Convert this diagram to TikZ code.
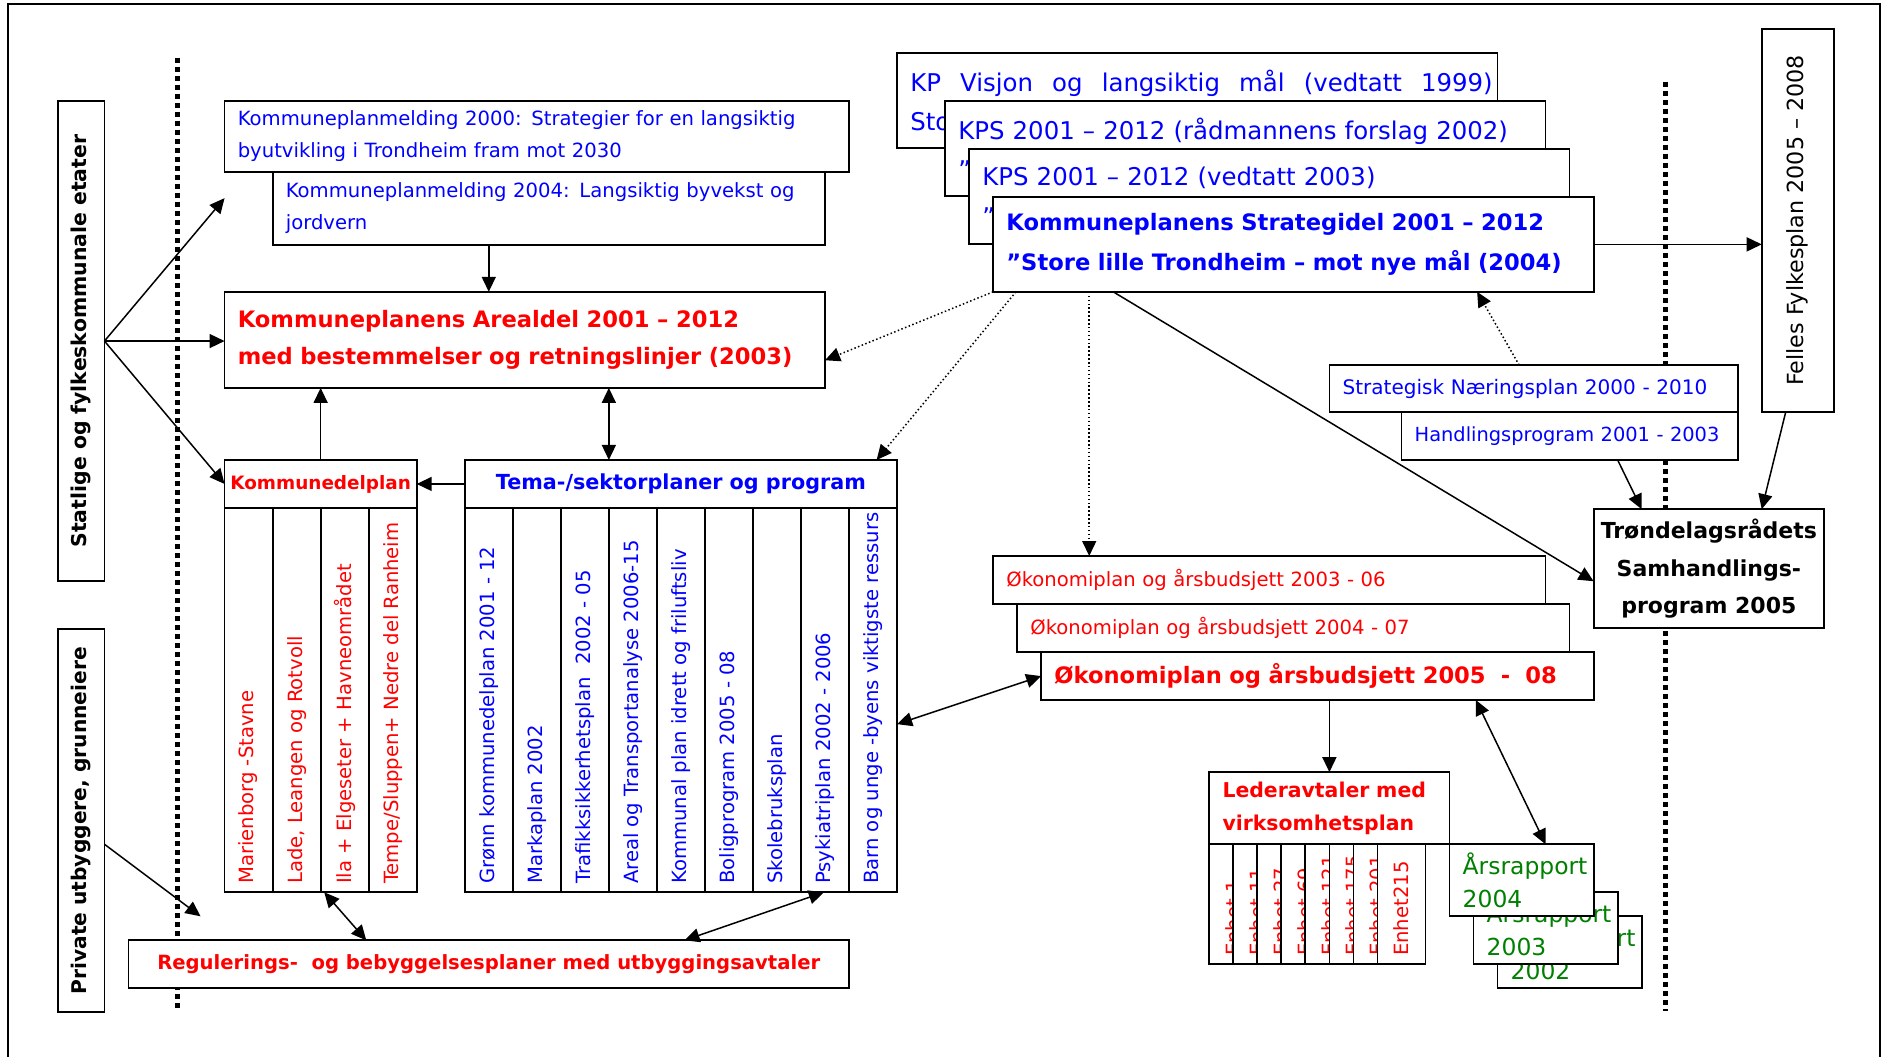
\documentclass[tikz,border=0pt]{standalone}
\usepackage{fontspec}
\usepackage{graphicx}
\setmainfont{DejaVu Sans}
\usetikzlibrary{arrows.meta}
\definecolor{pblue}{RGB}{0,0,255}
\definecolor{pred}{RGB}{255,0,0}
\definecolor{pgreen}{RGB}{0,128,0}
\newcommand\fsz[2]{\fontsize{#1}{#2}\selectfont}
\newcommand\pu{0.6pt}
% rotated labels: column labels start at the bottom of their column
\newcommand\colt[1]{\rotatebox{90}{\makebox[183.6pt][l]{#1}}}
\newcommand\enht[1]{\rotatebox{90}{\makebox[51.6pt][l]{#1}}}
\newcommand\vtxt[1]{\rotatebox{90}{#1}}

\begin{document}
\begin{tikzpicture}[x=0.6pt, y=-0.6pt,
  box/.style={draw, line width=0.9pt, fill=white, inner sep=0pt, outer sep=0pt},
  area/.style args={#1,#2,#3,#4}{minimum width={(#3-#1)*0.6pt},
    minimum height={(#4-#2)*0.6pt}, at={({(#1+#3)/2},{(#2+#4)/2})}},
  lefttext/.style args={#1,#2,#3,#4}{area={#1,#2,#3,#4},
    text width={(#3-#1-22)*0.6pt}, inner xsep=6.6pt, align=left},
  reg/.style={font=\fsz{9.8}{16.2}},
  bigbold/.style={font=\bfseries\fsz{11.3}{18.6}},
  colk/.style={box, text=pred, font=\fsz{9.8}{12}},
  colt/.style={box, text=pblue, font=\fsz{9.8}{12}},
  tip/.style={-{Triangle[length=7.5pt,width=7pt]}},
  arr/.style={line width=0.75pt, tip},
  darr/.style={line width=0.75pt, {Triangle[length=7.5pt,width=7pt]}-{Triangle[length=7.5pt,width=7pt]}},
  dotarr/.style={arr, dash pattern=on 0.75pt off 1.2pt},
  sep/.style={line width=2.6pt, dash pattern=on 2.5pt off 2pt},
  frame/.style={line width=1pt}]
\useasboundingbox (0,0) rectangle (1568,880);

% page frame and the two boundary lines
\draw[frame] (7,880) -- (7,3.5) -- (1565.5,3.5) -- (1565.5,880);
\draw[sep] (148,48) -- (148,842);
\draw[sep] (1387,68) -- (1387,842);

% outside actors
\node[box, area={48,84,87,484}, font=\bfseries\fsz{10.2}{12}] (stat) {\vtxt{Statlige og fylkeskommunale etater}};
\node[box, area={48,524,87,843}, font=\bfseries\fsz{10.1}{12}] (priv) {\vtxt{Private utbyggere, grunneiere}};

% municipal messages and land-use part
\node[box, lefttext={187,84,707,143}, reg, text=pblue] (km00)
  {Kommuneplanmelding 2000: Strategier for en langsiktig\\byutvikling i Trondheim fram mot 2030};
\node[box, lefttext={227,143,687,204}, reg, text=pblue] (km04)
  {Kommuneplanmelding 2004: Langsiktig byvekst og\\jordvern};
\node[box, lefttext={187,243,687,323}, bigbold, text=pred] (areal)
  {Kommuneplanens Arealdel 2001 – 2012\\med bestemmelser og retningslinjer (2003)};

% district plans
\node[box, area={187,383,347,423}, text=pred, font=\bfseries\fsz{9.2}{12}] (kdp) {Kommunedelplan};
\node[colk, area={187,423,227,743}] (k1) {\colt{Marienborg -Stavne}};
\node[colk, area={227,423,267,743}] (k2) {\colt{Lade, Leangen og Rotvoll}};
\node[colk, area={267,423,307,743}] (k3) {\colt{Ila + Elgeseter + Havneområdet}};
\node[colk, area={307,423,347,743}] (k4) {\colt{Tempe/Sluppen+ Nedre del Ranheim}};

% thematic and sector plans
\node[box, area={387,383,747,423}, text=pblue, font=\bfseries\fsz{10.35}{12}] (tema) {Tema-/sektorplaner og program};
\node[colt, area={387,423,427,743}] (t1) {\colt{Grønn kommunedelplan 2001 - 12}};
\node[colt, area={427,423,467,743}] (t2) {\colt{Markaplan 2002}};
\node[colt, area={467,423,507,743}] (t3) {\colt{Trafikksikkerhetsplan\ \ 2002 - 05}};
\node[colt, area={507,423,547,743}] (t4) {\colt{Areal og Transportanalyse 2006-15}};
\node[colt, area={547,423,587,743}] (t5) {\colt{Kommunal plan idrett og friluftsliv}};
\node[colt, area={587,423,627,743}] (t6) {\colt{Boligprogram 2005 - 08}};
\node[colt, area={627,423,667,743}] (t7) {\colt{Skolebruksplan}};
\node[colt, area={667,423,707,743}] (t8) {\colt{Psykiatriplan 2002 - 2006}};
\node[colt, area={707,423,747,743}] (t9) {\colt{Barn og unge -byens viktigste ressurs}};

% zoning plans
\node[box, area={107,783,707,823}, text=pred, font=\bfseries\fsz{9.8}{12}] (reg)
  {Regulerings-\ \ og bebyggelsesplaner med utbyggingsavtaler};

% strategic part, stacked versions
\node[box, lefttext={747,44,1247,123}, text=pblue, font=\fsz{12.2}{19.8}] (kpa)
  {\hbox to 291pt{KP\hfill Visjon\hfill og\hfill langsiktig\hfill mål\hfill (vedtatt\hfill 1999)}\\Sto};
\node[box, lefttext={787,84,1287,163}, text=pblue, font=\fsz{12.2}{19.8}] (kpb)
  {KPS 2001 – 2012 (rådmannens forslag 2002)\\”};
\node[box, lefttext={807,124,1307,203}, text=pblue, font=\fsz{12.2}{19.8}] (kpc)
  {KPS 2001 – 2012 (vedtatt 2003)\\”};
\node[box, lefttext={827,164,1327,243}, text=pblue, font=\bfseries\fsz{11.3}{20.4}] (kpd)
  {Kommuneplanens Strategidel 2001 – 2012\\”Store lille Trondheim – mot nye mål (2004)};

% regional plans
\node[box, area={1467,24,1527,343}, font=\fsz{11.1}{12}] (felles) {\vtxt{Felles Fylkesplan 2005 – 2008}};
\node[box, lefttext={1107,304,1447,343}, text=pblue, font=\fsz{10}{12}] (strat) {Strategisk Næringsplan 2000 - 2010};
\node[box, lefttext={1167,343,1447,383}, text=pblue, font=\fsz{9.7}{12}] (hand) {Handlingsprogram 2001 - 2003};
\node[box, area={1327,424,1519,523}, align=center, font=\bfseries\fsz{11}{18.6}] (trond)
  {Trøndelagsrådets\\Samhandlings-\\program 2005};

% economy plans and budgets
\node[box, lefttext={827,463,1287,503}, reg, text=pred] (e1) {Økonomiplan og årsbudsjett 2003 - 06};
\node[box, lefttext={847,503,1307,543}, reg, text=pred] (e2) {Økonomiplan og årsbudsjett 2004 - 07};
\node[box, lefttext={867,543,1327,583}, bigbold, text=pred] (e3) {Økonomiplan og årsbudsjett 2005\ \ -\ \ 08};

% management agreements and units
\node[box, lefttext={1007,643,1207,703}, text=pred, font=\bfseries\fsz{10.2}{16.2}] (leder)
  {Lederavtaler med\\virksomhetsplan};
\foreach \t [count=\k from 0] in {Enhet 1, Enhet 11, Enhet 27, Enhet 69, Enhet 121, Enhet 175, Enhet 201, Enhet215} {
  \pgfmathsetmacro\xa{1007+20*\k}
  \pgfmathsetmacro\xb{\xa+40}
  \node[box, area={\xa,703,\xb,803}, text=pred, font=\fsz{9.8}{12}] (en\k) {\enht{\t}};
}

% annual reports
\node[box, lefttext={1247,763,1367,823}, text=pgreen, font=\fsz{11.7}{16.2}] (r02) {Årsrapport\\2002};
\node[box, lefttext={1227,743,1347,803}, text=pgreen, font=\fsz{11.7}{16.2}] (r03) {Årsrapport\\2003};
\node[box, lefttext={1207,703,1327,763}, text=pgreen, font=\fsz{11.7}{16.2}] (r04) {Årsrapport\\2004};

% connectors
\draw[arr] (stat.east) -- ([yshift=-22*\pu]km00.south west);
\draw[arr] (stat.east) -- (stat.east -| areal.west);
\draw[arr] (stat.east) -- (kdp.west);
\draw[arr] ([yshift=-19.5*\pu]priv.east) -- ([xshift=60*\pu,yshift=20*\pu]reg.north west);
\draw[arr] ([xshift=180*\pu]km04.south west) -- ([xshift=220*\pu]areal.north west);
\draw[arr] (kdp.north) -- ([xshift=80*\pu]areal.south west);
\draw[darr] ([xshift=320*\pu]areal.south west) -- ([xshift=120*\pu]tema.north west);
\draw[arr] (tema.west) -- (kdp.east);
\draw[darr] ([xshift=3*\pu]k3.south west) -- ([xshift=198*\pu]reg.north west);
\draw[darr] ([xshift=19*\pu]t8.south west) -- ([xshift=463*\pu]reg.north west);
\draw[darr] ([yshift=-20*\pu]t9.east) -- (e3.west);
\draw[arr] (kpd.east) -- (kpd.east -| felles.west);
\draw[dotarr] ([xshift=80*\pu]kpd.south west) -- ([xshift=80*\pu]e1.north west);
\draw[dotarr] (kpd.south west) -- ([yshift=-17*\pu]areal.east);
\draw[dotarr] ([xshift=19*\pu]kpd.south west) -- ([xshift=-17*\pu]tema.north east);
\draw[arr] ([xshift=100*\pu]kpd.south west) -- ([yshift=-10.5*\pu]trond.west);
\draw[dotarr] ([xshift=158*\pu]strat.north west) -- ([xshift=403*\pu]kpd.south west);
\draw[arr] ([xshift=180*\pu]hand.south west) -- ([xshift=40*\pu]trond.north west);
\draw[arr] ([xshift=-10*\pu]felles.south) -- ([xshift=140*\pu]trond.north west);
\draw[arr] ([xshift=240*\pu]e3.south west) -- (leder.north);
\draw[darr] ([xshift=362*\pu]e3.south west) -- ([xshift=80*\pu]r04.north west);
\end{tikzpicture}
\end{document}
